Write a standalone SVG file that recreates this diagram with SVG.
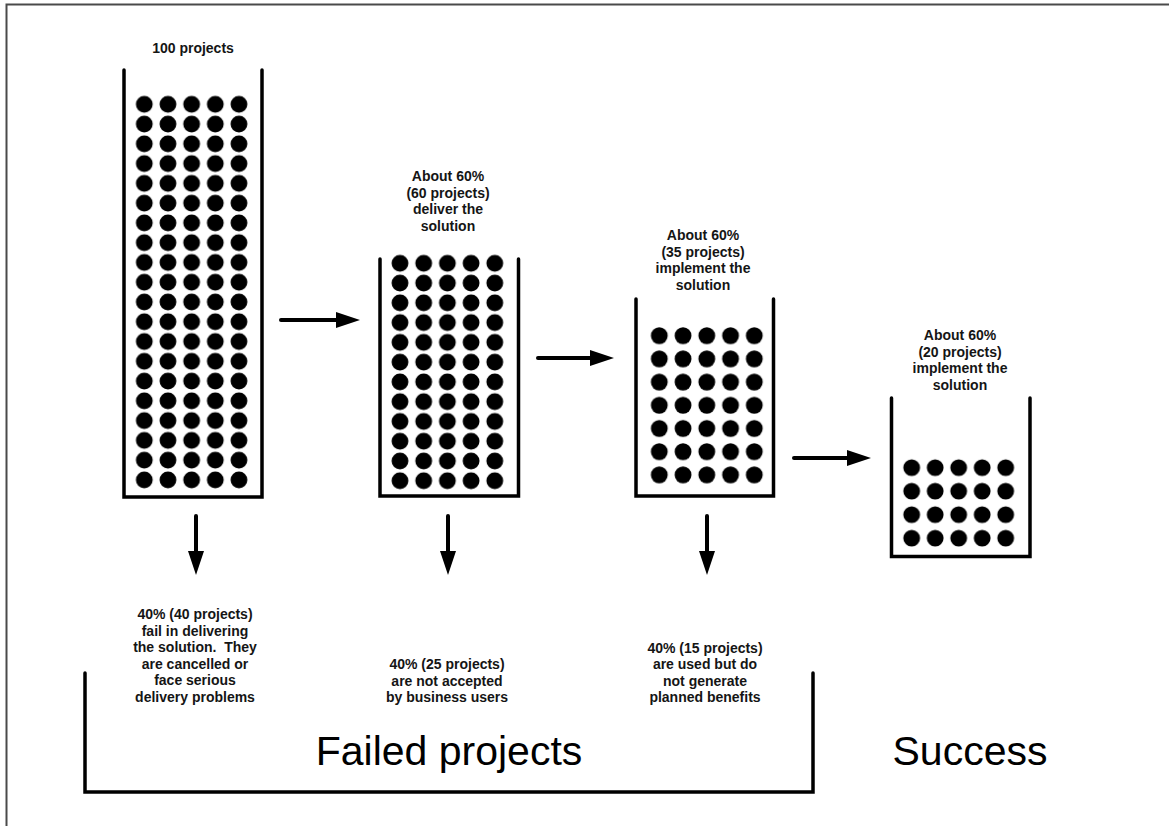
<svg xmlns="http://www.w3.org/2000/svg" width="1169" height="826" viewBox="0 0 1169 826">
<style>
.wall{fill:none;stroke:#000;stroke-width:3.5;stroke-linecap:round;stroke-linejoin:miter}
.lbl{font-family:"Liberation Sans",Arial,sans-serif;font-weight:bold;font-size:14px;fill:#151515;text-anchor:middle;white-space:pre}
.big{font-family:"Liberation Sans",Arial,sans-serif;font-size:41px;fill:#000;text-anchor:middle}
.arr{stroke:#000;stroke-width:4;stroke-linecap:round;fill:none}
</style>
<defs>
<marker id="ah" markerUnits="userSpaceOnUse" markerWidth="25" markerHeight="16" viewBox="0 0 25 16" refX="2" refY="8" orient="auto">
<path d="M0,0 L24,8 L0,16 Z" fill="#000"/>
</marker>
<pattern id="p1" patternUnits="userSpaceOnUse" x="132.47" y="94.42" width="23.67" height="19.77"><circle cx="11.835" cy="9.885" r="8.4" fill="#000"/></pattern>
<pattern id="p2" patternUnits="userSpaceOnUse" x="388.15" y="253.42" width="23.7" height="19.77"><circle cx="11.85" cy="9.885" r="8.4" fill="#000"/></pattern>
<pattern id="p3" patternUnits="userSpaceOnUse" x="647.43" y="324.1" width="23.75" height="23.2"><circle cx="11.875" cy="11.6" r="8.4" fill="#000"/></pattern>
<pattern id="p4" patternUnits="userSpaceOnUse" x="899.95" y="455.95" width="23.5" height="23.5"><circle cx="11.75" cy="11.75" r="8.4" fill="#000"/></pattern>
</defs>
<rect width="1169" height="826" fill="#fff"/>
<path d="M6.5,826 V4.5 H1169" fill="none" stroke="#4a4a4a" stroke-width="2"/>

<g id="stage1">
<text class="lbl" x="193" y="53">100 projects</text>
<path class="wall" d="M124,70 V497 H262 V70"/>
<rect x="132.47" y="94.42" width="118.35" height="395.4" fill="url(#p1)"/>
</g>

<g id="stage2">
<text class="lbl" x="448" y="181">About 60%</text>
<text class="lbl" x="448" y="197.5">(60 projects)</text>
<text class="lbl" x="448" y="214">deliver the</text>
<text class="lbl" x="448" y="230.5">solution</text>
<path class="wall" d="M380,259 V496 H518.5 V259"/>
<rect x="388.15" y="253.42" width="118.5" height="237.24" fill="url(#p2)"/>
</g>

<g id="stage3">
<text class="lbl" x="703" y="240">About 60%</text>
<text class="lbl" x="703" y="256.5">(35 projects)</text>
<text class="lbl" x="703" y="273">implement the</text>
<text class="lbl" x="703" y="289.5">solution</text>
<path class="wall" d="M636,299 V496 H773.5 V299"/>
<rect x="647.43" y="324.1" width="118.75" height="162.4" fill="url(#p3)"/>
</g>

<g id="stage4">
<text class="lbl" x="960" y="340">About 60%</text>
<text class="lbl" x="960" y="356.5">(20 projects)</text>
<text class="lbl" x="960" y="373">implement the</text>
<text class="lbl" x="960" y="389.5">solution</text>
<path class="wall" d="M891.5,398 V556.5 H1030 V398"/>
<rect x="899.95" y="455.95" width="117.5" height="94" fill="url(#p4)"/>
</g>

<g id="fail1">
<text class="lbl" x="195" y="619">40% (40 projects)</text>
<text class="lbl" x="195" y="635.5">fail in delivering</text>
<text class="lbl" x="195" y="652">the solution.  They</text>
<text class="lbl" x="195" y="668.5">are cancelled or</text>
<text class="lbl" x="195" y="685">face serious</text>
<text class="lbl" x="195" y="701.5">delivery problems</text>
</g>
<g id="fail2">
<text class="lbl" x="447" y="669">40% (25 projects)</text>
<text class="lbl" x="447" y="685.5">are not accepted</text>
<text class="lbl" x="447" y="702">by business users</text>
</g>
<g id="fail3">
<text class="lbl" x="705" y="652.5">40% (15 projects)</text>
<text class="lbl" x="705" y="669">are used but do</text>
<text class="lbl" x="705" y="685.5">not generate</text>
<text class="lbl" x="705" y="702">planned benefits</text>
</g>

<g id="failed">
<path class="wall" d="M85,673 V792 H813 V673"/>
<text class="big" x="449" y="765">Failed projects</text>
</g>
<g id="success">
<text class="big" x="970" y="765">Success</text>
</g>

<g id="connectors">
<path class="arr" d="M281,320 H338" marker-end="url(#ah)"/>
<path class="arr" d="M538,358 H592" marker-end="url(#ah)"/>
<path class="arr" d="M794,458 H849" marker-end="url(#ah)"/>
<path class="arr" d="M196,516 V553" marker-end="url(#ah)"/>
<path class="arr" d="M448,516 V553" marker-end="url(#ah)"/>
<path class="arr" d="M707,516 V553" marker-end="url(#ah)"/>
</g>
</svg>
